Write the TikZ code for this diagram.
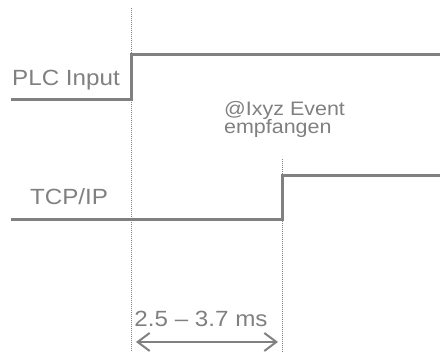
\documentclass[tikz,border=0pt]{standalone}
\usepackage{fontspec}
\setmainfont[FakeStretch=1.1]{Liberation Sans}
\usetikzlibrary{arrows.meta}
\definecolor{sig}{HTML}{808080}
\tikzset{
  signal/.style={draw=sig, line width=3pt, line join=miter},
  guide/.style={draw=sig, line width=0.9pt, dash pattern=on 0.9pt off 1.1pt},
  lbl/.style={text=sig, font=\fontsize{22}{24}\selectfont, inner sep=0pt, anchor=base},
  evt/.style={text=sig, font=\fontsize{19.5}{22}\selectfont, inner sep=0pt, anchor=base west},
  span/.style={draw=sig, line width=2pt, {Straight Barb[length=12pt,width=18pt,line width=2pt]}-{Straight Barb[length=12pt,width=18pt,line width=2pt]}}
}
\begin{document}
\begin{tikzpicture}[x=1pt,y=-1pt]
\useasboundingbox (0,0) rectangle (440,352);
% guide lines
\coordinate (g1top) at (131.5,8);
\coordinate (g1bot) at (131.5,352);
\coordinate (g2top) at (282,159);
\coordinate (g2bot) at (282,352);
\draw[guide] (g1top) -- (g1bot);
\draw[guide] (g2top) -- (g2bot);
% PLC signal
\coordinate (p0) at (11,100);
\coordinate (p1) at (131.5,100);
\coordinate (p2) at (131.5,55);
\coordinate (p3) at (440,55);
\draw[signal] (p0) -- (p1) -- (p2) -- (p3);
% TCP signal
\coordinate (t0) at (11,220);
\coordinate (t1) at (282,220);
\coordinate (t2) at (282,176);
\coordinate (t3) at (440,176);
\draw[signal] (t0) -- (t1) -- (t2) -- (t3);
% labels
\node[lbl] (plc) at (66,86) {PLC Input};
\node[lbl] (tcp) at (69,205) {TCP/IP};
\node[evt] (ev1) at (224,116) {@Ixyz Event};
\node[evt] (ev2) at (224,134) {empfangen};
% span arrow
\coordinate (a0) at (136,342);
\coordinate (a1) at (278,342);
\draw[span] (a0) -- (a1);
\node[lbl] (dt) at (201,327) {2.5 – 3.7 ms};
\end{tikzpicture}
\end{document}
